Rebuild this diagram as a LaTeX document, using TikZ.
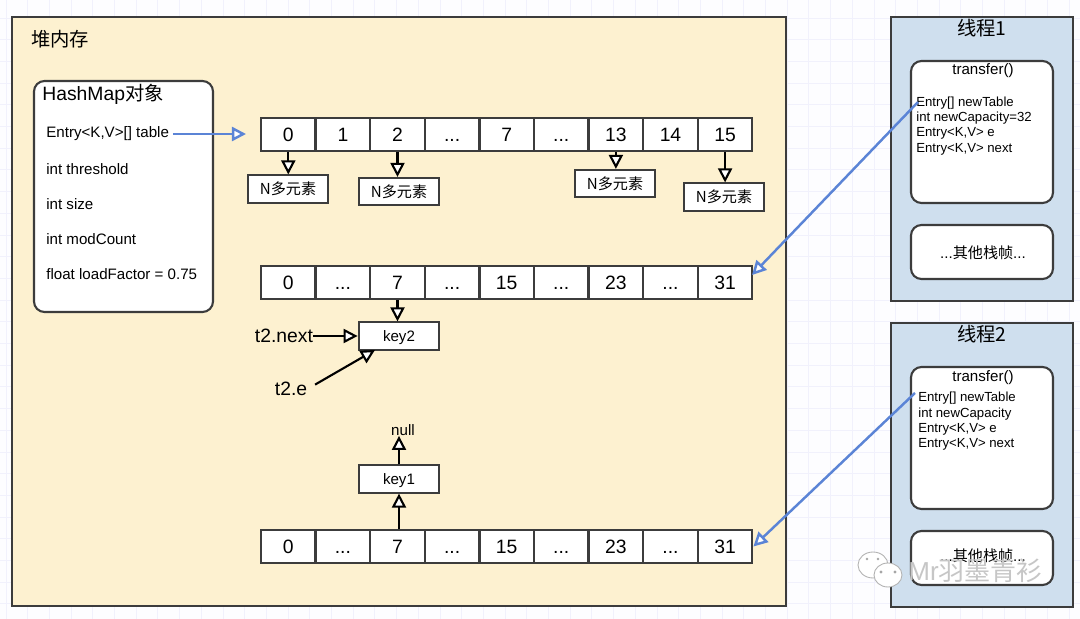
\documentclass[tikz,border=0pt]{standalone}
\usepackage{fontspec}
\setmainfont{Liberation Sans}
\newfontfamily\cjk{Noto Sans CJK SC}
\usetikzlibrary{arrows.meta,positioning,calc}
\definecolor{pagefill}{HTML}{FDFDFF}
\definecolor{heapfill}{HTML}{FDF1D0}
\definecolor{threadfill}{HTML}{CFDFEE}
\definecolor{linegray}{HTML}{3C3C3C}
\definecolor{linkblue}{HTML}{5B84D6}
\definecolor{gridline}{HTML}{F1F1FC}
\newcommand{\dd}{...}
\tikzset{
	panel/.style={draw=linegray, line width=1.2pt},
	frame/.style={draw=linegray, fill=white, line width=1.2pt, rounded corners=6pt},
	cell/.style={draw=linegray, fill=white, line width=1.2pt, minimum width=31pt, minimum height=18.6pt, inner sep=0pt, text height=7.8pt, text depth=0pt, font=\fontsize{11}{11}\selectfont},
	elem/.style={draw=linegray, fill=white, line width=1.1pt, minimum width=46pt, minimum height=15.5pt, inner sep=0pt, font=\fontsize{8.6}{8.6}\cjk},
	keybox/.style={elem, text height=6.8pt, text depth=0pt, font=\fontsize{8.6}{8.6}\selectfont},
	field/.style={anchor=west, inner sep=0pt, font=\fontsize{8.6}{8.6}\selectfont},
	arrowline/.style={line width=1.2pt, black, -{Triangle[open, fill=white, length=8pt, width=8pt]}},
	bluearrow/.style={line width=1.4pt, linkblue, -{Triangle[open, fill=white, length=8pt, width=8pt]}}
}
\begin{document}
\begin{tikzpicture}[x=0.02cm, y=-0.02cm]
	\useasboundingbox[fill=pagefill] (0,0) rectangle (1080,619);
	% grid behind everything
	\foreach \x in {6,27.7,...,1080}
		\draw[gridline, line width=0.5pt] (\x,0) -- (\x,619);
	\foreach \y in {18,39.7,...,619}
		\draw[gridline, line width=0.5pt] (0,\y) -- (1080,\y);
	% heap
	\filldraw[panel, fill=heapfill] (12,17) rectangle (786,606);
	\node[inner sep=0pt, font=\fontsize{11}{11}\cjk] (heap) at (60,39) {堆内存};
	\filldraw[frame] (34,81) rectangle (213,312);
	\node[inner sep=0pt, anchor=west, font=\fontsize{11}{11}\selectfont] (map) at (42,94) {HashMap{\cjk 对象}};
	\node[field] (tbl) at (46,134) {Entry<K,V>[] table};
	\node[field] (thr) at (46,169) {int threshold};
	\node[field] (siz) at (46,204) {int size};
	\node[field] (mod) at (46,239) {int modCount};
	\node[field] (loa) at (46,274) {float loadFactor = 0.75};
	% three tables
	\foreach \v [count=\i] in {0,1,2,\dd,7,\dd,13,14,15}
		\node[cell] (a\i) at (261+54.6*\i-27.3,134.5) {\v};
	\foreach \v [count=\i] in {0,\dd,7,\dd,15,\dd,23,\dd,31}
		\node[cell] (b\i) at (261+54.6*\i-27.3,282.5) {\v};
	\foreach \v [count=\i] in {0,\dd,7,\dd,15,\dd,23,\dd,31}
		\node[cell] (c\i) at (261+54.6*\i-27.3,546.5) {\v};
	% elements of the first table
	\node[elem] (n1) at (288,189) {N多元素};
	\node[elem] (n3) at (399,191.5) {N多元素};
	\node[elem] (n7) at (615,183.5) {N多元素};
	\node[elem] (n9) at (724,197) {N多元素};
	\draw[arrowline] (a1) -- (a1 |- n1.north);
	\draw[arrowline] (a3) -- (a3 |- n3.north);
	\draw[arrowline] (a7) -- (a7 |- n7.north);
	\draw[arrowline] (a9) -- (a9 |- n9.north);
	\coordinate (tblend) at (246,134);
	\draw[bluearrow] ([xshift=2pt]tbl.east) -- (tblend);
	% keys
	\node[keybox] (key2) at (399,336) {key2};
	\node[keybox] (key1) at (399,479) {key1};
	\node[inner sep=0pt, font=\fontsize{8.6}{8.6}\selectfont] (null) at (403,430) {null};
	\node[inner sep=0pt, font=\fontsize{11}{11}\selectfont] (tnext) at (284,336) {t2.next};
	\node[inner sep=0pt, font=\fontsize{11}{11}\selectfont] (te) at (291,389) {t2.e};
	\coordinate (keyin) at (375,350);
	\draw[arrowline] (b3) -- (b3 |- key2.north);
	\draw[arrowline] (tnext) -- (key2);
	\draw[arrowline, shorten <=5pt] (te.east) -- (keyin);
	\draw[arrowline] (key1 |- c3.north) -- (key1);
	\draw[arrowline] (key1) -- (key1 |- null.south);
	% thread 1
	\filldraw[panel, fill=threadfill] (891,17) rectangle (1073,301);
	\node[inner sep=0pt, font=\fontsize{11}{11}\cjk] (t1) at (982,28) {线程1};
	\filldraw[frame] (911,61) rectangle (1053,203);
	\node[inner sep=0pt, font=\fontsize{8.6}{8.6}\selectfont] (tr1) at (983,71) {transfer()};
	\node[anchor=north west, inner sep=0pt, align=left, font=\fontsize{7.5}{8.7}\selectfont] (v1) at (916,96.5) {Entry[] newTable\\int newCapacity=32\\Entry<K,V> e\\Entry<K,V> next};
	\filldraw[frame] (911,225) rectangle (1053,279);
	\node[inner sep=0pt, font=\fontsize{8.6}{8.6}\selectfont] (o1) at (983,253) {...{\cjk 其他栈帧}...};
	% thread 2
	\filldraw[panel, fill=threadfill] (891,323) rectangle (1073,607);
	\node[inner sep=0pt, font=\fontsize{11}{11}\cjk] (t2) at (982,334) {线程2};
	\filldraw[frame] (911,367) rectangle (1053,509);
	\node[inner sep=0pt, font=\fontsize{8.6}{8.6}\selectfont] (tr2) at (983,378) {transfer()};
	\node[anchor=north west, inner sep=0pt, align=left, font=\fontsize{7.5}{8.7}\selectfont] (v2) at (918,392) {Entry[] newTable\\int newCapacity\\Entry<K,V> e\\Entry<K,V> next};
	\filldraw[frame] (911,531) rectangle (1053,585);
	\node[inner sep=0pt, font=\fontsize{8.6}{8.6}\selectfont] (o2) at (983,556) {...{\cjk 其他栈帧}...};
	% links from the threads
	\coordinate (v1start) at (918,102);
	\coordinate (v2start) at (915,393);
	\coordinate (b9in) at (752,275);
	\draw[bluearrow] (v1start) -- (b9in);
	\draw[bluearrow] (v2start) -- (c9.east);
	% watermark
	\filldraw[draw=gray!60, fill=white, line width=0.5pt] (873,565) ellipse (15 and 13);
	\filldraw[draw=gray!60, fill=white, line width=0.5pt] (888,575) ellipse (14 and 12);
	\fill[gray!70] (881,572) circle (1.6) (895,572) circle (1.6) (867,559) circle (1.4) (878,559) circle (1.4);
	\node[anchor=west, inner sep=0pt, text=gray!45, font=\fontsize{14.8}{14.8}\selectfont] (mark) at (908,571) {Mr{\cjk 羽墨青衫}};
\end{tikzpicture}
\end{document}
